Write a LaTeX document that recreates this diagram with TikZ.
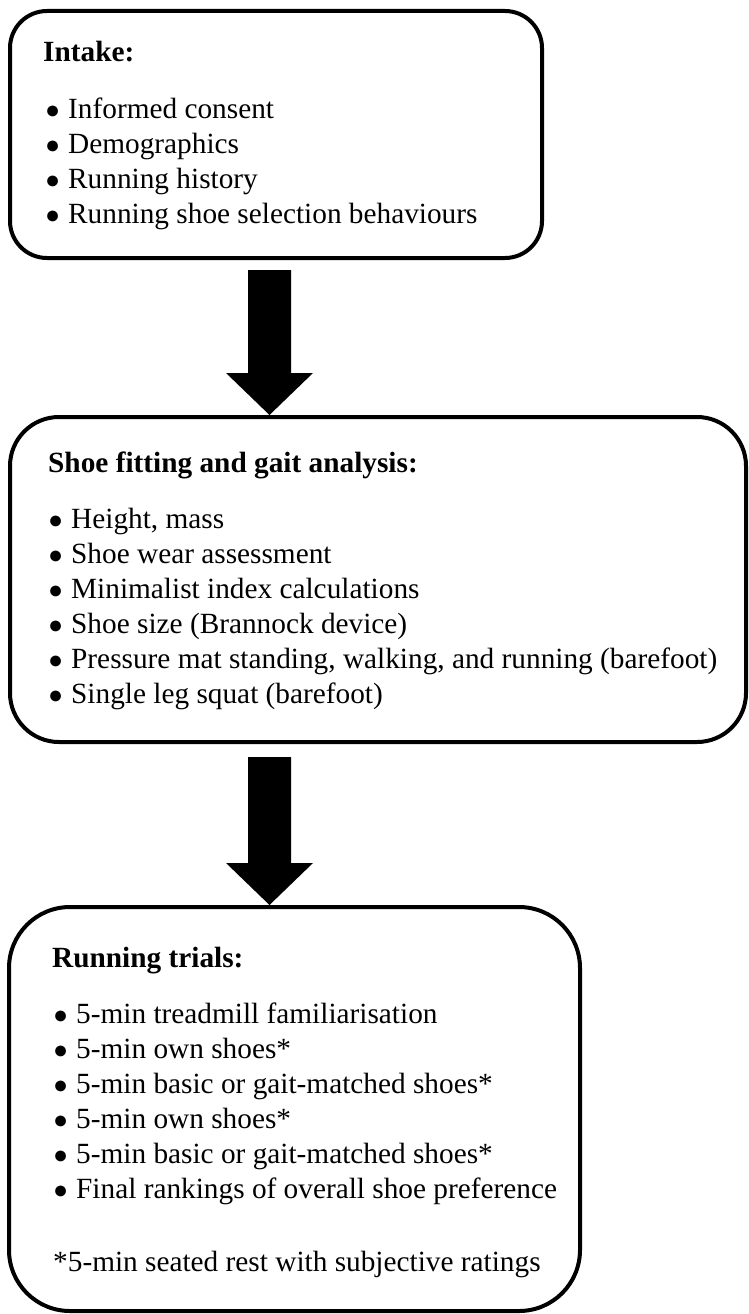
\documentclass[tikz,border=0pt]{standalone}
\usepackage{fontspec}
\setmainfont{Liberation Serif}
\usetikzlibrary{calc}

\tikzset{
  stagebox/.style={draw=black, line width=4pt, fill=white, inner sep=0pt},
  head/.style={anchor=base west, inner sep=0pt, font=\fontsize{29.3}{35}\selectfont\bfseries},
  item/.style={anchor=base west, inner sep=0pt, font=\fontsize{29.3}{35}\selectfont},
  blockarrow/.style={fill=black},
}
% list marker: a filled circle followed by the item text
\newcommand{\itm}[1]{\makebox[23pt][l]{\fontsize{25}{25}\selectfont ●}#1}

\begin{document}
\begin{tikzpicture}[x=1pt, y=-1pt]
\path[use as bounding box] (0,0) rectangle (749,1314);

% stage boxes
\node[stagebox, minimum width=532pt, minimum height=247pt, rounded corners=37pt] (box1) at (276,134.5) {};
\node[stagebox, minimum width=736pt, minimum height=325pt, rounded corners=49pt] (box2) at (378,579.5) {};
\node[stagebox, minimum width=571pt, minimum height=404pt, rounded corners=61pt] (box3) at (294.5,1109) {};

% intake
\node[head] (h1) at (43,62) {Intake:};
\node[item] (a1) at (45,118) {\itm{Informed consent}};
\node[item] (a2) at (45,153) {\itm{Demographics}};
\node[item] (a3) at (45,188) {\itm{Running history}};
\node[item] (a4) at (45,223) {\itm{Running shoe selection behaviours}};

% shoe fitting
\node[head] (h2) at (48,472) {Shoe fitting and gait analysis:};
\node[item] (b1) at (48,528) {\itm{Height, mass}};
\node[item] (b2) at (48,563) {\itm{Shoe wear assessment}};
\node[item] (b3) at (48,598) {\itm{Minimalist index calculations}};
\node[item] (b4) at (48,633) {\itm{Shoe size (Brannock device)}};
\node[item] (b5) at (48,668) {\itm{Pressure mat standing, walking, and running (barefoot)}};
\node[item] (b6) at (48,703) {\itm{Single leg squat (barefoot)}};

% running trials
\node[head] (h3) at (52,967) {Running trials:};
\node[item] (c1) at (53,1023) {\itm{5-min treadmill familiarisation}};
\node[item] (c2) at (53,1058) {\itm{5-min own shoes*}};
\node[item] (c3) at (53,1093) {\itm{5-min basic or gait-matched shoes*}};
\node[item] (c4) at (53,1128) {\itm{5-min own shoes*}};
\node[item] (c5) at (53,1163) {\itm{5-min basic or gait-matched shoes*}};
\node[item] (c6) at (53,1198) {\itm{Final rankings of overall shoe preference}};
\node[item] (c7) at (53,1271) {*5-min seated rest with subjective ratings};

% block arrows between the stages
\coordinate (tail1) at (269.5,270);
\coordinate (tail2) at (269.5,757);
\coordinate (tip1) at (tail1 |- box2.north);
\coordinate (tip2) at (tail2 |- box3.north);
\foreach \t/\h in {tail1/tip1, tail2/tip2}{
  \fill[blockarrow] let \p1=(\t), \p2=(\h) in
    (\x1-21.5pt,\y1) -- (\x1+21.5pt,\y1) -- (\x1+21.5pt,\y2+42pt)
    -- (\x1+43.5pt,\y2+42pt) -- (\x2,\y2) -- (\x1-43.5pt,\y2+42pt)
    -- (\x1-21.5pt,\y2+42pt) -- cycle;
}
\end{tikzpicture}
\end{document}
